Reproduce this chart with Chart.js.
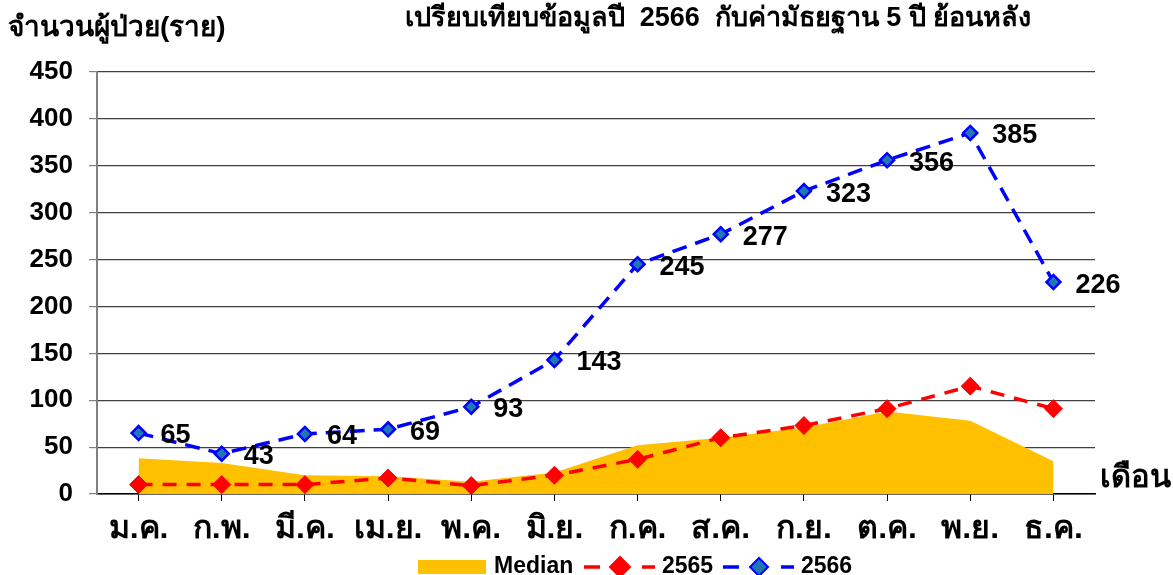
<!DOCTYPE html>
<html>
<head>
<meta charset="utf-8">
<script src="https://cdn.jsdelivr.net/npm/chart.js@4.4.0/dist/chart.umd.min.js"></script>
<style>
  html, body { margin: 0; padding: 0; background: #fff; }
  #wrap { width: 1173px; height: 575px; position: relative; }
</style>
</head>
<body>
<div id="wrap"><canvas id="grafico" width="1173" height="575"></canvas></div>
<script>
// datos
const meses = ['ม.ค.', 'ก.พ.', 'มี.ค.', 'เม.ย.', 'พ.ค.', 'มิ.ย.', 'ก.ค.', 'ส.ค.', 'ก.ย.', 'ต.ค.', 'พ.ย.', 'ธ.ค.'];
const mediana = [38, 33, 20, 19, 13, 23, 52, 60, 71, 88, 78, 35];
const datos2565 = [10, 10, 10, 17, 9, 20, 37, 60, 73, 91, 115, 91];
const datos2566 = [65, 43, 64, 69, 93, 143, 245, 277, 323, 356, 385, 226];

const titulo = 'เปรียบเทียบข้อมูลปี  2566  กับค่ามัธยฐาน 5 ปี ย้อนหลัง';
const tituloY = 'จำนวนผู้ป่วย(ราย)';
const tituloX = 'เดือน';

const fuente = "'Liberation Sans', Arial, 'Noto Sans', sans-serif";
const colores = {
  mediana: '#FFC000',
  rojo: '#FF0000',
  azul: '#0000FF',
  azulRelleno: '#1F78B4',
  rejilla: '#404040',
  eje: '#808080'
};

// etiquetas de valores para la serie 2566
const etiquetasValores = {
  id: 'etiquetasValores',
  afterDatasetsDraw(chart) {
    const ctx = chart.ctx;
    const meta = chart.getDatasetMeta(2);
    ctx.save();
    ctx.font = 'bold 27px ' + fuente;
    ctx.fillStyle = '#000';
    ctx.textAlign = 'left';
    ctx.textBaseline = 'middle';
    meta.data.forEach((p, i) => {
      ctx.fillText(String(datos2566[i]), p.x + 22, p.y + 3);
    });
    ctx.restore();
  }
};

// textos sueltos y leyenda
const textosExtra = {
  id: 'textosExtra',
  afterDraw(chart) {
    const ctx = chart.ctx;
    ctx.save();
    ctx.fillStyle = '#000';
    ctx.textBaseline = 'middle';

    ctx.font = 'bold 27px ' + fuente;
    ctx.textAlign = 'center';
    ctx.fillText(titulo, 718, 19);

    ctx.textAlign = 'left';
    ctx.font = 'bold 28px ' + fuente;
    ctx.fillText(tituloY, 8, 28);

    ctx.font = 'bold 31px ' + fuente;
    ctx.fillText(tituloX, 1100, 478);

    // leyenda
    const yL = 567;
    ctx.fillStyle = colores.mediana;
    ctx.fillRect(418, 560, 68, 14);
    ctx.fillStyle = '#000';
    ctx.font = 'bold 23px ' + fuente;
    ctx.fillText('Median', 494, yL);

    const muestra = (x0, color, relleno, radio, texto) => {
      ctx.strokeStyle = color;
      ctx.lineWidth = 3.5;
      ctx.beginPath();
      ctx.moveTo(x0, yL); ctx.lineTo(x0 + 16, yL);
      ctx.moveTo(x0 + 58, yL); ctx.lineTo(x0 + 71, yL);
      ctx.stroke();
      const cx = x0 + 36;
      ctx.beginPath();
      ctx.moveTo(cx, yL - radio); ctx.lineTo(cx + radio, yL);
      ctx.lineTo(cx, yL + radio); ctx.lineTo(cx - radio, yL);
      ctx.closePath();
      ctx.fillStyle = relleno;
      ctx.fill();
      ctx.lineWidth = 2;
      ctx.strokeStyle = color;
      ctx.stroke();
      ctx.fillStyle = '#000';
      ctx.fillText(texto, x0 + 78, yL);
    };
    muestra(584, colores.rojo, colores.rojo, 10, '2565');
    muestra(723, colores.azul, colores.azulRelleno, 9, '2566');
    ctx.restore();
  }
};

const ctx = document.getElementById('grafico').getContext('2d');
new Chart(ctx, {
  type: 'line',
  data: {
    labels: meses,
    datasets: [
      {
        label: 'Median',
        data: mediana,
        fill: 'origin',
        backgroundColor: colores.mediana,
        borderWidth: 0,
        borderColor: colores.mediana,
        pointRadius: 0,
        tension: 0,
        order: 3
      },
      {
        label: '2565',
        data: datos2565,
        borderColor: colores.rojo,
        backgroundColor: colores.rojo,
        borderWidth: 3.5,
        borderDash: [14, 10],
        pointStyle: 'rectRot',
        pointRadius: 9,
        pointBorderWidth: 1,
        pointBackgroundColor: colores.rojo,
        pointBorderColor: colores.rojo,
        fill: false,
        tension: 0,
        order: 2
      },
      {
        label: '2566',
        data: datos2566,
        borderColor: colores.azul,
        backgroundColor: colores.azulRelleno,
        borderWidth: 3.5,
        borderDash: [15, 9],
        pointStyle: 'rectRot',
        pointRadius: 7,
        pointBorderWidth: 2.5,
        pointBackgroundColor: colores.azulRelleno,
        pointBorderColor: colores.azul,
        fill: false,
        tension: 0,
        order: 1
      }
    ]
  },
  options: {
    responsive: false,
    animation: false,
    layout: { padding: { top: 72, right: 78, left: 0, bottom: 0 } },
    plugins: {
      legend: { display: false },
      title: { display: false },
      tooltip: { enabled: false }
    },
    scales: {
      x: {
        offset: true,
        afterFit: (scale) => { scale.height = 81; },
        grid: {
          display: true,
          offset: false,
          drawOnChartArea: false,
          drawTicks: true,
          tickLength: 7,
          color: '#000'
        },
        border: { display: true, color: '#000', width: 1.5 },
        ticks: {
          color: '#000',
          padding: 9,
          maxRotation: 0,
          font: { family: fuente, size: 32, weight: 'bold' }
        }
      },
      y: {
        min: 0,
        max: 450,
        afterFit: (scale) => { scale.width = 97; },
        grid: {
          color: colores.rejilla,
          lineWidth: 1.2,
          tickLength: 8,
          tickColor: colores.eje
        },
        border: { display: true, color: colores.eje, width: 2 },
        ticks: {
          stepSize: 50,
          color: '#000',
          padding: 16,
          font: { family: fuente, size: 26, weight: 'bold' }
        }
      }
    }
  },
  plugins: [etiquetasValores, textosExtra]
});
</script>
</body>
</html>
